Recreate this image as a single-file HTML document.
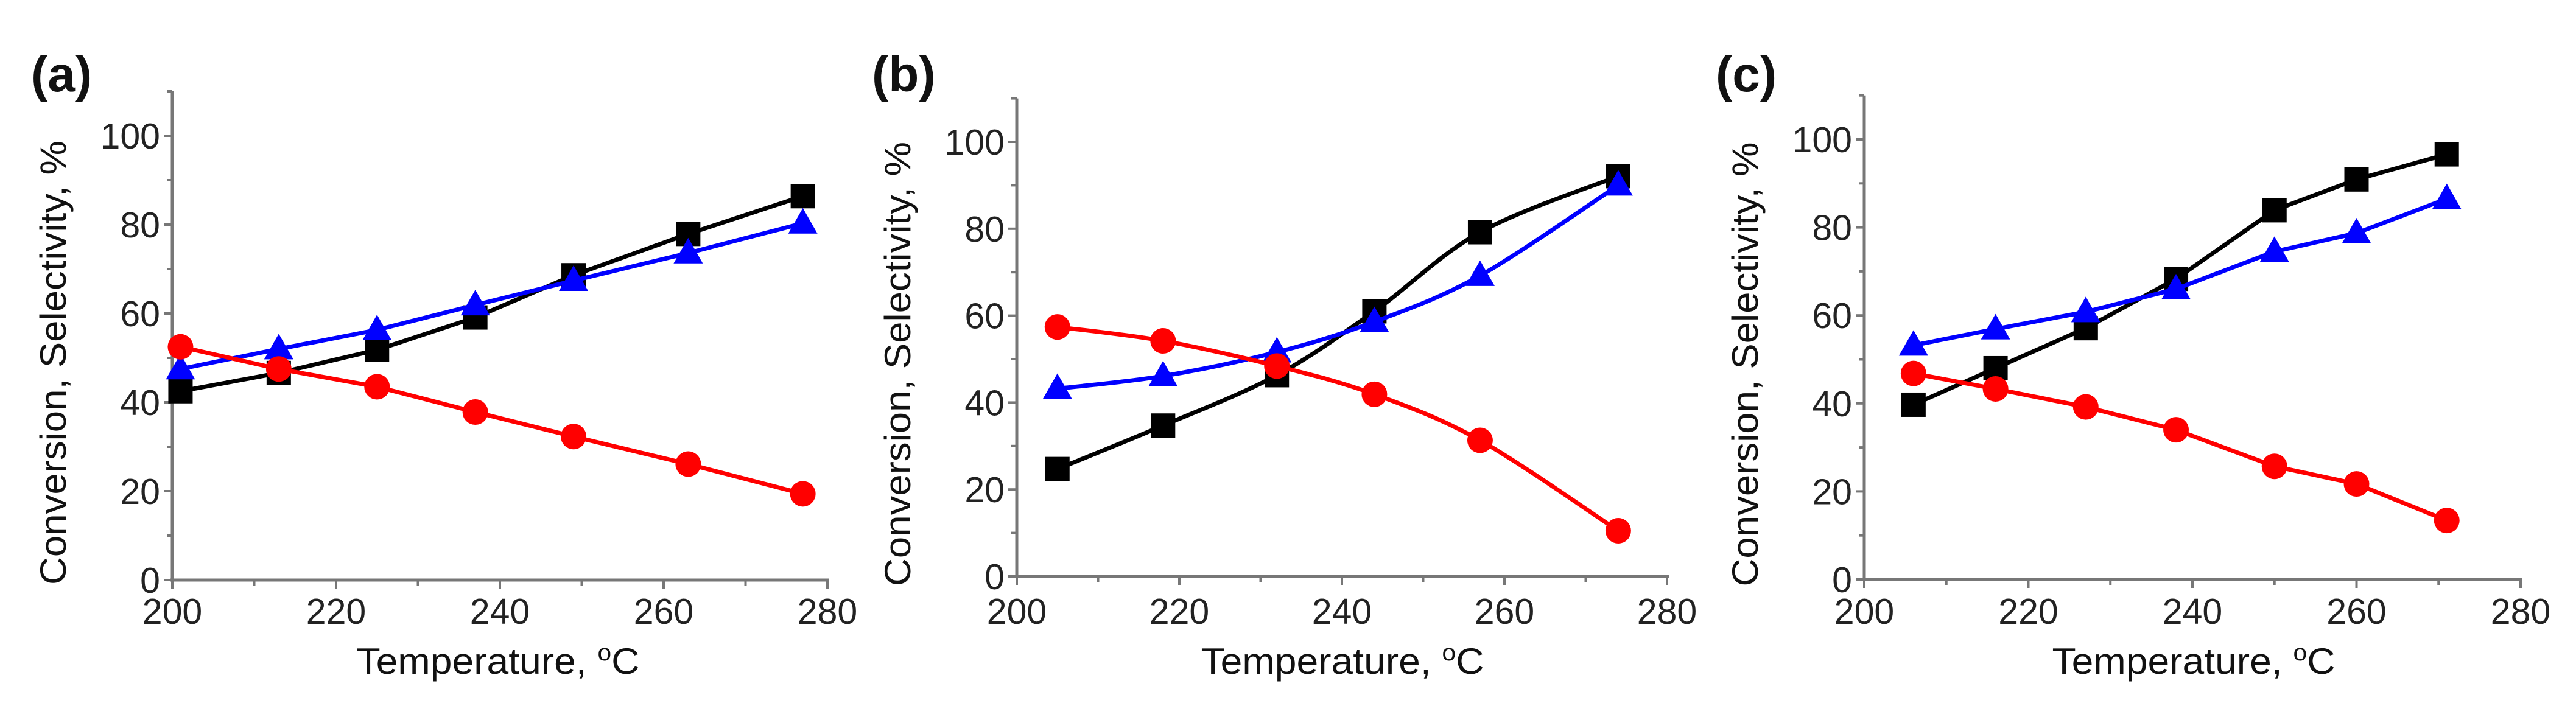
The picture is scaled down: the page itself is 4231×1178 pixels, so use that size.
<!DOCTYPE html>
<html><head><meta charset="utf-8"><style>
html,body{margin:0;padding:0;background:#fff;}
svg{display:block;font-family:"Liberation Sans",Arial,sans-serif;}
</style></head><body>
<svg id="fig" width="4231" height="1178" viewBox="0 0 4231 1178"></svg>
<script>
const xTicks=[200,220,240,260,280];
const yTicks=[0,20,40,60,80,100];
const panelLabels=["(a)","(b)","(c)"];
const aTemp=[201,213,225,237,249,263,277];
const aConv=[42.5,46.6,51.8,59.1,68.6,77.9,86.4];
const aSelRed=[52.5,47.5,43.5,37.8,32.3,26.1,19.4];
const aSelBlue=[47.5,52,56.3,61.9,67.4,73.6,80.3];
const bTemp=[205,218,232,244,257,274];
const bConv=[24.7,34.7,46.3,61,79.2,92.1];
const bSelRed=[57.4,54.2,48.4,41.9,31.3,10.5];
const bSelBlue=[43.2,46.1,51.6,58.6,69.2,90];
const cTemp=[206,216,227,238,250,260,271];
const cConv=[39.7,48,57.1,68.3,83.9,90.9,96.6];
const cSelRed=[46.8,43.3,39.2,34,25.7,21.7,13.4];
const cSelBlue=[53.2,56.9,60.8,66,74.5,78.7,86.5];

const panels=[
 {x0:283,x1:1359,y0:953,y100:223,lx:51,tx:818,smooth:false,temp:aTemp,conv:aConv,red:aSelRed,blue:aSelBlue},
 {x0:1670,x1:2738,y0:947,y100:233,lx:1432,tx:2205,smooth:true,temp:bTemp,conv:bConv,red:bSelRed,blue:bSelBlue},
 {x0:3062,x1:4140,y0:952,y100:229,lx:2818,tx:3603,smooth:false,temp:cTemp,conv:cConv,red:cSelRed,blue:cSelBlue}
];
const NS="http://www.w3.org/2000/svg";
const svg=document.getElementById('fig');
function mk(tag,attrs,parent){const e=document.createElementNS(NS,tag);for(const k in attrs)e.setAttribute(k,attrs[k]);(parent||svg).appendChild(e);return e;}
function pathFor(pts,smooth){
 if(!smooth)return 'M'+pts.map(q=>q.join(',')).join(' L');
 let d='M'+pts[0].join(',');
 for(let i=0;i<pts.length-1;i++){
  const p0=pts[Math.max(0,i-1)],p1=pts[i],p2=pts[i+1],p3=pts[Math.min(pts.length-1,i+2)];
  const c1=[p1[0]+(p2[0]-p0[0])/6,p1[1]+(p2[1]-p0[1])/6];
  const c2=[p2[0]-(p3[0]-p1[0])/6,p2[1]-(p3[1]-p1[1])/6];
  d+=' C'+c1.join(',')+' '+c2.join(',')+' '+p2.join(',');
 }
 return d;
}
panels.forEach((p,i)=>{
 const g=mk('g',{});
 
 
 const sx=v=>p.x0+(v-200)/80*(p.x1-p.x0);
 const sy=v=>p.y0-v/100*(p.y0-p.y100);
 const lab=mk('text',{x:p.lx,y:150,'font-size':82,'font-weight':'bold',fill:'#111'},g);
 lab.textContent=panelLabels[i];
 
 
 const ya=mk('line',{x1:p.x0,y1:p.y0,x2:p.x0,y2:sy(110),stroke:'#777','stroke-width':5},g);
 
 
 const xa=mk('line',{x1:p.x0-3,y1:p.y0,x2:p.x1+3,y2:p.y0,stroke:'#777','stroke-width':5},g);
 
 
 for(let v=0;v<=110;v+=10){mk('line',{x1:p.x0-(v%20==0?14:9),y1:sy(v),x2:p.x0,y2:sy(v),stroke:'#777','stroke-width':4},g);}
 for(let v=200;v<=280;v+=10){mk('line',{x1:sx(v),y1:p.y0,x2:sx(v),y2:p.y0+(v%20==0?14:9),stroke:'#777','stroke-width':4},g);}
 yTicks.forEach(v=>{const t=mk('text',{x:p.x0-20,y:sy(v)+21,'font-size':59,'text-anchor':'end',fill:'#222'},g);t.textContent=v;
  
  });
 xTicks.forEach(v=>{const t=mk('text',{x:sx(v),y:1025,'font-size':59,'text-anchor':'middle',fill:'#222'},g);t.textContent=v;
  
  });
 const yt=mk('text',{x:0,y:0,'font-size':60,'text-anchor':'middle',fill:'#111',transform:`translate(${p.x0-175},${(p.y0+p.y100)/2+8}) rotate(-90)`,textLength:730,lengthAdjust:'spacingAndGlyphs'},g);
 yt.textContent='Conversion, Selectivity, %';
 
 
 const xt=mk('text',{x:p.tx,y:1107,'font-size':60,'text-anchor':'middle',fill:'#111',textLength:465,lengthAdjust:'spacingAndGlyphs'},g);
 xt.innerHTML='Temperature, <tspan dy="-22" font-size="38">o</tspan><tspan dy="22">C</tspan>';
 
 
 const series=[{d:p.conv,c:'#000',m:'sq',n:'conversion'},{d:p.blue,c:'#0000ff',m:'tri',n:'selectivity-blue'},{d:p.red,c:'#ff0000',m:'ci',n:'selectivity-red'}];
 series.forEach(s=>{
  const pts=p.temp.map((t,k)=>[sx(t),sy(s.d[k])]);
  const pl=mk('path',{d:pathFor(pts,p.smooth),fill:'none',stroke:s.c,'stroke-width':7},g);
  
  
  pts.forEach(q=>{let e;
   if(s.m=='sq')e=mk('rect',{x:q[0]-20,y:q[1]-20,width:40,height:40,fill:s.c},g);
   else if(s.m=='ci')e=mk('circle',{cx:q[0],cy:q[1],r:21,fill:s.c},g);
   else e=mk('polygon',{points:`${q[0]},${q[1]-25} ${q[0]-24},${q[1]+17} ${q[0]+24},${q[1]+17}`,fill:s.c},g);
   
   
  });
 });
});
</script>
</body></html>
